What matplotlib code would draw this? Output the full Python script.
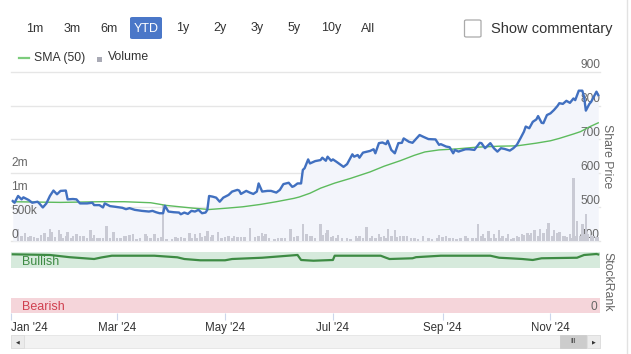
import matplotlib
matplotlib.use('Agg')
import matplotlib.pyplot as plt
from matplotlib.patches import Rectangle, FancyBboxPatch
from matplotlib.lines import Line2D
import pandas as pd

plt.rcParams['font.family'] = ['Liberation Sans', 'DejaVu Sans']

# ---- data ----
range_buttons = ['1m', '3m', '6m', 'YTD', '1y', '2y', '3y', '5y', '10y', 'All']

price_days = ['01-02', '01-03', '01-05', '01-07', '01-08', '01-11', '01-13', '01-16', '01-17', '01-19',
              '01-21', '01-23', '01-25', '01-27', '01-29', '02-01', '02-02', '02-05', '02-07', '02-09',
              '02-13', '02-16', '02-17', '02-20', '02-22', '02-23', '02-26', '02-29', '03-04', '03-06',
              '03-08', '03-11', '03-15', '03-19', '03-21', '03-23', '03-25', '03-27', '03-28', '03-30',
              '04-02', '04-05', '04-06', '04-08', '04-10', '04-12', '04-14', '04-16', '04-18', '04-20',
              '04-21', '04-22', '04-24', '04-26', '04-28', '04-30', '05-03', '05-05', '05-08', '05-09',
              '05-10', '05-13', '05-15', '05-17', '05-19', '05-20', '05-22', '05-25', '05-27', '05-30',
              '06-01', '06-03', '06-06', '06-08', '06-09', '06-11', '06-13', '06-14', '06-15', '06-17',
              '06-18', '06-21', '06-24', '06-25', '06-27', '06-28', '06-30', '07-01', '07-03', '07-07',
              '07-09', '07-12', '07-13', '07-15', '07-16', '07-18', '07-22', '07-24', '07-25', '07-27',
              '07-29', '07-31', '08-01', '08-03', '08-05', '08-07', '08-09', '08-10', '08-13', '08-15',
              '08-19', '08-21', '08-24', '08-28', '08-30', '08-31', '09-03', '09-05', '09-07', '09-08',
              '09-10', '09-11', '09-14', '09-16', '09-19', '09-22', '09-23', '09-25', '09-26', '09-28',
              '09-30', '10-02', '10-04', '10-06', '10-09', '10-11', '10-13', '10-15', '10-17', '10-18',
              '10-20', '10-22', '10-24', '10-25', '10-27', '10-28', '10-30', '11-01', '11-03', '11-05',
              '11-06', '11-08', '11-10', '11-12', '11-14', '11-15', '11-17', '11-19', '11-20', '11-21',
              '11-23', '11-24', '11-25', '11-27', '11-28']
price = [518, 513, 533, 523, 529, 521, 513, 516, 511, 499,
         511, 533, 549, 538, 548, 549, 523, 524, 523, 511,
         511, 513, 506, 506, 499, 511, 503, 501, 498, 494,
         497, 492, 489, 487, 489, 485, 482, 482, 504, 487,
         485, 484, 479, 484, 480, 489, 487, 492, 482, 484,
         492, 533, 531, 528, 516, 528, 536, 546, 551, 549,
         539, 548, 543, 539, 546, 570, 546, 548, 548, 543,
         551, 568, 572, 560, 562, 570, 570, 610, 615, 641,
         629, 636, 639, 646, 637, 649, 637, 641, 634, 619,
         627, 656, 649, 654, 646, 661, 666, 671, 659, 689,
         691, 686, 696, 669, 659, 689, 690, 703, 693, 690,
         713, 708, 701, 700, 684, 686, 679, 677, 659, 669,
         664, 666, 671, 671, 669, 690, 689, 674, 679, 689,
         674, 664, 674, 672, 667, 674, 684, 703, 723, 738,
         733, 752, 759, 769, 749, 748, 772, 777, 787, 799,
         807, 805, 814, 808, 821, 816, 844, 844, 826, 785,
         805, 811, 821, 841, 831]

sma_days = ['01-02', '01-29', '02-20', '03-05', '03-20', '03-29', '04-13', '04-22', '05-02', '05-11',
            '05-21', '05-30', '06-09', '06-12', '06-18', '06-24', '07-02', '07-11', '07-22', '07-30',
            '08-08', '08-16', '08-22', '08-30', '09-09', '09-20', '10-03', '10-13', '10-24', '11-01',
            '11-06', '11-14', '11-18', '11-23', '11-28']
sma = [516, 514, 516, 516, 513, 505, 497, 493, 497, 501,
       508, 516, 526, 530, 541, 556, 571, 585, 604, 621,
       637, 653, 663, 669, 672, 677, 680, 681, 689, 696,
       703, 716, 723, 737, 749]

vol_days = ['01-05', '01-07', '01-09', '01-11', '01-12', '01-14', '01-16', '01-18', '01-20', '01-22',
            '01-23', '01-24', '01-26', '01-28', '01-29', '01-30', '02-01', '02-02', '02-04', '02-05',
            '02-07', '02-09', '02-11', '02-13', '02-15', '02-16', '02-17', '02-19', '02-20', '02-22',
            '02-24', '02-26', '02-28', '03-01', '03-03', '03-05', '03-06', '03-08', '03-10', '03-12',
            '03-14', '03-17', '03-18', '03-20', '03-22', '03-24', '03-26', '03-27', '03-29', '04-01',
            '04-03', '04-04', '04-06', '04-08', '04-11', '04-12', '04-14', '04-15', '04-17', '04-18',
            '04-20', '04-21', '04-23', '04-24', '04-27', '04-29', '05-01', '05-03', '05-05', '05-06',
            '05-08', '05-10', '05-12', '05-15', '05-18', '05-20', '05-22', '05-23', '05-24', '05-26',
            '05-29', '05-31', '06-02', '06-04', '06-07', '06-09', '06-11', '06-14', '06-16', '06-18',
            '06-19', '06-21', '06-24', '06-25', '06-27', '06-28', '06-30', '07-01', '07-03', '07-04',
            '07-06', '07-09', '07-11', '07-14', '07-15', '07-16', '07-18', '07-20', '07-22', '07-23',
            '07-25', '07-27', '07-28', '07-30', '07-31', '08-01', '08-03', '08-05', '08-06', '08-08',
            '08-10', '08-12', '08-14', '08-16', '08-18', '08-21', '08-24', '08-26', '08-29', '08-30',
            '09-01', '09-03', '09-05', '09-07', '09-09', '09-11', '09-14', '09-15', '09-18', '09-20',
            '09-21', '09-23', '09-24', '09-25', '09-27', '09-28', '09-30', '10-01', '10-03', '10-04',
            '10-05', '10-07', '10-08', '10-10', '10-11', '10-13', '10-14', '10-16', '10-17', '10-19',
            '10-20', '10-21', '10-23', '10-25', '10-26', '10-28', '10-30', '10-31', '11-02', '11-03',
            '11-05', '11-06', '11-08', '11-09', '11-10', '11-12', '11-13', '11-14', '11-15', '11-16',
            '11-18', '11-19', '11-20', '11-21', '11-22', '11-24', '11-25', '11-27', '11-28']
volume_m = [.24, .10, .17, .08, .10, .08, .07, .12, .17, .08,
            .26, .19, .09, .22, .15, .07, .10, .19, .07, .10,
            .15, .10, .10, .06, .22, .07, .12, .07, .07, .06,
            .31, .07, .19, .06, .07, .10, .10, .12, .15, .05,
            .07, .14, .10, .06, .15, .07, .08, .75, .05, .04,
            .08, .06, .08, .07, .17, .06, .14, .07, .17, .08,
            .10, .21, .08, .12, .19, .07, .08, .10, .06, .10,
            .08, .08, .08, .28, .08, .10, .17, .10, .15, .07,
            .05, .07, .07, .06, .26, .08, .10, .35, .15, .10,
            .10, .06, .35, .12, .17, .22, .08, .10, .07, .12,
            .07, .07, .05, .10, .07, .10, .06, .29, .07, .10,
            .06, .15, .08, .10, .06, .24, .10, .22, .08, .10,
            .10, .10, .07, .07, .05, .10, .07, .04, .07, .12,
            .08, .10, .07, .07, .05, .06, .10, .06, .07, .07,
            .36, .10, .14, .07, .21, .07, .14, .07, .22, .07,
            .10, .06, .14, .05, .07, .10, .08, .15, .12, .17,
            .13, .17, .22, .10, .24, .17, .26, .38, .10, .22,
            .17, .19, .10, .10, .08, .14, .07, 1.32, .10, .42,
            .10, .35, .15, .57, .14, .12, .10, .08, .08]

rank_days = ['01-02', '01-23', '02-03', '02-17', '02-21', '02-27', '03-22', '04-04', '04-08', '04-17',
             '05-01', '05-05', '05-22', '06-11', '06-13', '06-20', '07-01', '07-02', '07-28', '07-31',
             '08-02', '08-15', '08-17', '08-31', '09-28', '10-03', '10-09', '10-16', '10-22', '10-27',
             '11-16', '11-20', '11-27', '11-28']
stockrank = [96.7, 95.6, 92.0, 89.0, 91.5, 94.4, 94.4, 91.8, 89.0, 86.9,
             86.9, 89.0, 91.1, 95.6, 87.4, 86.2, 87.4, 94.4, 94.4, 91.1,
             89.0, 90.2, 92.0, 94.4, 94.4, 91.1, 90.2, 89.0, 87.4, 90.2,
             91.1, 95.6, 97.2, 96.5]

price_ticks = [400, 500, 600, 700, 800, 900]
vol_ticks = [0, 0.5, 1.0, 1.5]
vol_tick_labels = ['0', '500k', '1m', '2m']
month_ticks = ['01-01', '03-01', '05-01', '07-01', '09-01', '11-01']
month_labels = ["Jan '24", "Mar '24", "May '24", "Jul '24", "Sep '24", "Nov '24"]


def to_dates(days):
    return pd.to_datetime(['2024-' + s for s in days])


W, H = 631, 354
fig = plt.figure(figsize=(W / 100, H / 100), dpi=100)


def fx(px):
    return px / W


def fy(py):
    return 1 - py / H


def rect(x0, y0, x1, y1):
    return [fx(x0), fy(y1), fx(x1) - fx(x0), fy(y0) - fy(y1)]


x_lo, x_hi = pd.Timestamp('2024-01-01'), pd.Timestamp('2024-11-29')
label_col = '#666666'

# main price panel: background, grid and area
ax = fig.add_axes(rect(11, 71.7, 600, 241))
ax.set_xlim(x_lo, x_hi)
ax.set_ylim(400, 900)
ax.axis('off')
for v in price_ticks:
    ax.axhline(v, color='#e6e6e6', lw=1, clip_on=False, zorder=0)
    ax.text(1.0, v + 1, str(v), transform=ax.get_yaxis_transform(), ha='right', va='bottom',
            fontsize=8.6, color=label_col)
ax.fill_between(to_dates(price_days), price, 400, color='#f3f5fb', lw=0, zorder=1)

# volume bars
axv = ax.twinx()
axv.set_ylim(0, 3.527)
axv.axis('off')
axv.bar(to_dates(vol_days), volume_m, width=1.4, color='#c9cad4', lw=0)
for v, lab in zip(vol_ticks, vol_tick_labels):
    axv.text(0.0, v + 0.01, lab, transform=axv.get_yaxis_transform(), ha='left', va='bottom',
             fontsize=8.6, color=label_col)

# price + sma lines on top
axl = fig.add_axes(rect(11, 71.7, 600, 241), sharex=ax, sharey=ax)
axl.patch.set_visible(False)
axl.axis('off')
axl.plot(to_dates(sma_days), sma, color='#5dbb5d', lw=1.0)
axl.plot(to_dates(price_days), price, color='#4170c0', lw=1.7, solid_joinstyle='round')

fig.text(fx(607), fy(156), 'Share Price', rotation=-90, ha='center', va='center',
         fontsize=8.8, color=label_col)

# StockRank panel
axs = fig.add_axes(rect(11, 252.3, 600, 313.3))
axs.set_xlim(x_lo, x_hi)
axs.set_ylim(0, 100)
for s in axs.spines.values():
    s.set_visible(False)
axs.axhspan(75, 100, color='#d6eadc', lw=0)
axs.axhspan(0, 25, color='#f5d5da', lw=0)
axs.plot(to_dates(rank_days), stockrank, color='#3d8b43', lw=1.6)
axs.text(0.018, 83.5, 'Bullish', transform=axs.get_yaxis_transform(), ha='left', va='center',
         fontsize=9, color='#3d8b43')
axs.text(0.018, 10, 'Bearish', transform=axs.get_yaxis_transform(), ha='left', va='center',
         fontsize=9, color='#d0404f')
axs.text(0.995, 11, '0', transform=axs.get_yaxis_transform(), ha='right', va='center',
         fontsize=8.6, color=label_col)
axs.set_yticks([])
axs.set_xticks(to_dates(month_ticks))
axs.set_xticklabels(month_labels)
axs.tick_params(axis='x', length=5, width=0.8, color='#ccd6eb', pad=1.5, labelsize=8.3,
                labelcolor='#333333')
axs.get_xticklabels()[0].set_ha('left')
fig.text(fx(607), fy(282), 'StockRank', rotation=-90, ha='center', va='center',
         fontsize=8.8, color=label_col)

# top range selector
btn_x = [35, 72, 109, 146, 183, 220, 257, 294, 331, 368]
for lab, cx in zip(range_buttons, btn_x):
    if lab == 'YTD':
        fig.patches.append(FancyBboxPatch((fx(130), fy(39)), fx(32), fy(17) - fy(39),
                                          boxstyle='round,pad=0,rounding_size=0.004',
                                          transform=fig.transFigure, fc='#4a77c8', ec='none'))
        fig.text(fx(cx), fy(28.5), lab, ha='center', va='center', fontsize=9, color='white')
    else:
        fig.text(fx(cx), fy(28.5), lab, ha='center', va='center', fontsize=9, color='#333333')

fig.patches.append(FancyBboxPatch((fx(464.5), fy(37)), fx(16.5), fy(20) - fy(37),
                                  boxstyle='round,pad=0,rounding_size=0.003',
                                  transform=fig.transFigure, fc='white', ec='#aaaaaa', lw=0.9))
fig.text(fx(491), fy(28.5), 'Show commentary', ha='left', va='center', fontsize=10.5,
         color='#333333')

# legend
fig.add_artist(Line2D([fx(19), fx(29)], [fy(57.5), fy(57.5)], color='#7ccc7c', lw=1.6,
                      transform=fig.transFigure))
fig.text(fx(34), fy(57.5), 'SMA (50)', ha='left', va='center', fontsize=8.8, color='#333333')
fig.patches.append(Rectangle((fx(96.5), fy(62)), fx(5), fy(57) - fy(62), transform=fig.transFigure,
                             fc='#a9aab5', ec='none'))
fig.text(fx(108), fy(57.5), 'Volume', ha='left', va='center', fontsize=8.8, color='#333333')

# scrollbar
fig.patches.append(Rectangle((fx(11), fy(348)), fx(589), fy(335) - fy(348), transform=fig.transFigure,
                             fc='#f2f2f2', ec='#e4e4e4', lw=0.6))
fig.patches.append(Rectangle((fx(11), fy(348)), fx(13), fy(335) - fy(348), transform=fig.transFigure,
                             fc='#ebebeb', ec='#dcdcdc', lw=0.6))
fig.patches.append(Rectangle((fx(587), fy(348)), fx(13), fy(335) - fy(348), transform=fig.transFigure,
                             fc='#ebebeb', ec='#dcdcdc', lw=0.6))
fig.patches.append(Rectangle((fx(560), fy(348)), fx(26), fy(335) - fy(348), transform=fig.transFigure,
                             fc='#cccccc', ec='#cccccc', lw=0.6))
fig.text(fx(17.5), fy(341.5), '\u25c0', ha='center', va='center', fontsize=3.5, color='#333333',
         family='DejaVu Sans')
fig.text(fx(593.5), fy(341.5), '\u25b6', ha='center', va='center', fontsize=3.5, color='#333333',
         family='DejaVu Sans')
fig.text(fx(573), fy(341.5), 'III', ha='center', va='center', fontsize=5, color='#333333')

fig.add_artist(Line2D([fx(627), fx(627)], [0, 1], color='#e2e2e2', lw=1, transform=fig.transFigure))

fig.savefig('out.png', dpi=100)
